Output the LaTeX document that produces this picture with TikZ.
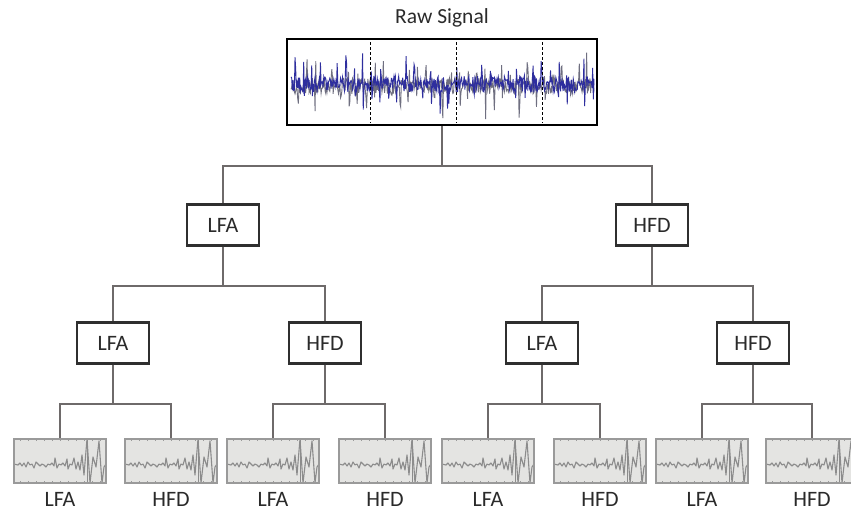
\documentclass[tikz,border=0pt]{standalone}
\usepackage{fontspec}
\setmainfont{Carlito}
\usepackage{xcolor}
\usetikzlibrary{positioning}
\definecolor{linkgray}{HTML}{6E6A6A}
\definecolor{boxgray}{HTML}{2F2F2F}
\definecolor{txtgray}{HTML}{2A2A2A}
\definecolor{thumbfill}{HTML}{E4E4E2}
\definecolor{thumbline}{HTML}{9A9A9A}
\definecolor{wavegray}{HTML}{8C8C8C}
\definecolor{sigblue}{HTML}{2E2E9E}
\definecolor{siggray}{HTML}{6F6F80}

\begin{document}
\begin{tikzpicture}[
        x=1pt, y=-1pt,
        node distance=5pt,
        rawbox/.style={rectangle, draw=black, line width=2.6pt, fill=white,
                       minimum width=310pt, minimum height=86pt},
        splitbox/.style={rectangle, draw=boxgray, line width=2.2pt, fill=white,
                         minimum width=72pt, minimum height=41pt, text=txtgray,
                         font=\fontsize{22}{26}\selectfont},
        thumb/.style={rectangle, draw=thumbline, line width=1.2pt, fill=thumbfill,
                      minimum width=92pt, minimum height=44pt, inner sep=0pt,
                      path picture={
                        \begin{scope}[shift={(path picture bounding box.center)}]
                          \foreach \t in {-40,-32,...,40} {
                            \draw[thumbline, line width=0.6pt] (\t,-22) -- (\t,-20);
                            \draw[thumbline, line width=0.6pt] (\t,22) -- (\t,20);
                          }
                          \draw[wavegray, line width=0.6pt] (27,-22) -- (27,22);
                          \draw[wavegray, line width=1.1pt, line join=round] plot coordinates {
                            (-46,3) (-42,4) (-40,2) (-38,5) (-36,2) (-34,6) (-32,1) (-30,4)
                            (-28,3) (-26,7) (-24,1) (-22,3) (-20,5) (-18,3) (-16,4) (-14,6)
                            (-12,3) (-10,4) (-8,2) (-6,5) (-5,-3) (-3,7) (-1,3) (1,4) (3,2)
                            (5,5) (7,-2) (8,8) (10,3) (12,4) (14,-3) (16,8) (18,1) (20,9)
                            (22,-6) (24,14) (27,-22) (30,22) (33,-4) (36,6) (39,-20) (42,22)
                            (44,6) (46,3)};
                        \end{scope}}},
        leaflabel/.style={text=txtgray, font=\fontsize{22}{26}\selectfont},
        link/.style={draw=linkgray, line width=1.9pt}
    ]
        \useasboundingbox (0,0) rectangle (851,514);

        % raw signal
        \node[rawbox] (raw) at (442,82) {};
        \node[above=7pt of raw, text=txtgray, font=\fontsize{21.5}{25}\selectfont] (title) {Raw Signal};
        \begin{scope}
            \clip (raw.south west) rectangle (raw.north east);
            \pgfmathsetseed{11}
            \draw[siggray, line width=0.9pt] plot[domain=291:594, samples=454]
                (\x, {86 + 8*rand + (mod(\x,8.5)<1.4)*28*rand});
            \pgfmathsetseed{5}
            \draw[sigblue, line width=0.9pt] plot[domain=291:594, samples=454]
                (\x, {84 + 8*rand + (mod(\x+3,8.5)<1.4)*26*rand});
            \foreach \d in {370,456,542}
                \draw[black, densely dashed, line width=0.7pt] (\d,42) -- (\d,123);
        \end{scope}

        % first split
        \node[splitbox] (a) at (223,225) {LFA};
        \node[splitbox] (h) at (652,225) {HFD};

        % second split
        \node[splitbox] (aa) at (113,343) {LFA};
        \node[splitbox] (ah) at (325,343) {HFD};
        \node[splitbox] (ha) at (542,343) {LFA};
        \node[splitbox] (hh) at (753,343) {HFD};

        % leaves
        \node[thumb] (aaa) at (60,461) {};
        \node[thumb] (aah) at (171,461) {};
        \node[thumb] (aha) at (273,461) {};
        \node[thumb] (ahh) at (385,461) {};
        \node[thumb] (haa) at (488,461) {};
        \node[thumb] (hah) at (600,461) {};
        \node[thumb] (hha) at (702,461) {};
        \node[thumb] (hhh) at (812,461) {};

        \node[leaflabel, below=of aaa] (laaa) {LFA};
        \node[leaflabel, below=of aah] (laah) {HFD};
        \node[leaflabel, below=of aha] (laha) {LFA};
        \node[leaflabel, below=of ahh] (lahh) {HFD};
        \node[leaflabel, below=of haa] (lhaa) {LFA};
        \node[leaflabel, below=of hah] (lhah) {HFD};
        \node[leaflabel, below=of hha] (lhha) {LFA};
        \node[leaflabel, below=of hhh] (lhhh) {HFD};

        % tree links
        \draw[link] (raw.south) -- ++(0,40) -| (a.north);
        \draw[link] (raw.south) -- ++(0,40) -| (h.north);
        \draw[link] (a.south) -- ++(0,39) -| (aa.north);
        \draw[link] (a.south) -- ++(0,39) -| (ah.north);
        \draw[link] (h.south) -- ++(0,39) -| (ha.north);
        \draw[link] (h.south) -- ++(0,39) -| (hh.north);
        \draw[link] (aa.south) -- ++(0,39) -| (aaa.north);
        \draw[link] (aa.south) -- ++(0,39) -| (aah.north);
        \draw[link] (ah.south) -- ++(0,39) -| (aha.north);
        \draw[link] (ah.south) -- ++(0,39) -| (ahh.north);
        \draw[link] (ha.south) -- ++(0,39) -| (haa.north);
        \draw[link] (ha.south) -- ++(0,39) -| (hah.north);
        \draw[link] (hh.south) -- ++(0,39) -| (hha.north);
        \draw[link] (hh.south) -- ++(0,39) -| (hhh.north);
    \end{tikzpicture}
\end{document}
